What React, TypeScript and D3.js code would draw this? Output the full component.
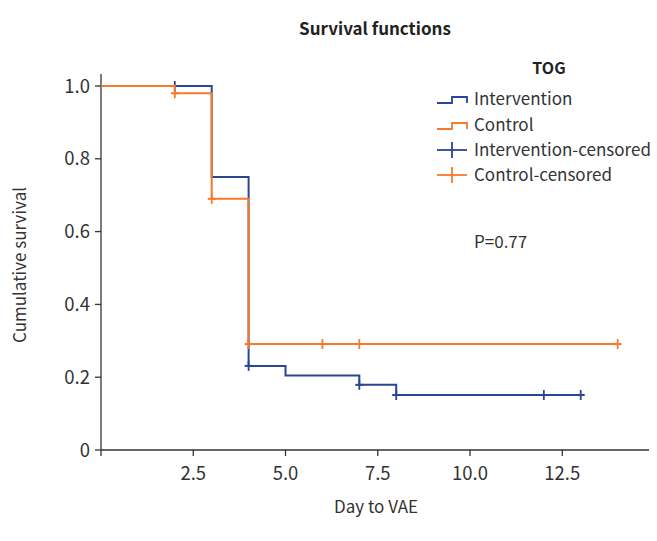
import React from "react";
import * as d3 from "d3";

const interventionSteps: [number, number][] = [
  [0, 1.0], [3, 0.75], [4, 0.231], [5, 0.205], [7, 0.179], [8, 0.151], [13, 0.151],
];
const interventionCensorX = [2, 4, 7, 8, 12, 13];
const controlSteps: [number, number][] = [
  [0, 1.0], [2, 0.98], [3, 0.69], [4, 0.291], [14, 0.291],
];
const controlCensorX = [2, 3, 4, 6, 7, 14];
const xTicks = [2.5, 5.0, 7.5, 10.0, 12.5];
const yTicks = [0, 0.2, 0.4, 0.6, 0.8, 1.0];
const legendItems = ["Intervention", "Control", "Intervention-censored", "Control-censored"];

const BLUE = "#2a4594";
const ORANGE = "#f47a2c";
const FONT = "'Noto Sans CJK KR', 'Noto Sans', sans-serif";

function stepAt(steps: [number, number][], x: number) {
  let v = steps[0][1];
  for (const [sx, sy] of steps) if (sx <= x) v = sy;
  return v;
}

export default function App() {
  const W = 657, H = 541;
  const x = d3.scaleLinear().domain([0, 14.85]).range([101, 649]);
  const y = d3.scaleLinear().domain([0, 1]).range([450, 86]);
  const line = d3.line<[number, number]>().x(d => x(d[0])).y(d => y(d[1])).curve(d3.curveStepAfter);

  const series = [
    { steps: interventionSteps, censor: interventionCensorX, color: BLUE },
    { steps: controlSteps, censor: controlCensorX, color: ORANGE },
  ];

  const lx = 437;
  const ly = [99, 125, 150, 175];
  const colors = [BLUE, ORANGE, BLUE, ORANGE];

  return (
    <svg width={W} height={H} style={{ position: "absolute", left: 0, top: 0, background: "#fff" }} fontFamily={FONT}>
      <rect width={W} height={H} fill="#fff" />
      <text x={375} y={35} textAnchor="middle" fontSize={17} fontWeight={700} fill="#222">Survival functions</text>
      {/* axes */}
      <line x1={x(0)} x2={x(0)} y1={y(1) - 12} y2={y(0)} stroke="#333" strokeWidth={1.3} />
      <line x1={x(0)} x2={x.range()[1]} y1={y(0)} y2={y(0)} stroke="#333" strokeWidth={1.3} />
      {yTicks.map(t => (
        <g key={"y" + t}>
          <line x1={x(0) - 6} x2={x(0)} y1={y(t)} y2={y(t)} stroke="#333" strokeWidth={1.3} />
          <text x={x(0) - 11} y={y(t)} dy="0.36em" textAnchor="end" fontSize={18.5} fill="#333">{t === 0 ? "0" : t.toFixed(1)}</text>
        </g>
      ))}
      <line x1={x(0)} x2={x(0)} y1={y(0)} y2={y(0) + 6} stroke="#333" strokeWidth={1.3} />
      {xTicks.map(t => (
        <g key={"x" + t}>
          <line x1={x(t)} x2={x(t)} y1={y(0)} y2={y(0) + 6} stroke="#333" strokeWidth={1.3} />
          <text x={x(t)} y={y(0) + 30} textAnchor="middle" fontSize={18.5} fill="#333">{t.toFixed(1)}</text>
        </g>
      ))}
      <text transform={`translate(26,${265}) rotate(-90)`} textAnchor="middle" fontSize={17} fill="#333">Cumulative survival</text>
      <text x={376} y={513} textAnchor="middle" fontSize={17} fill="#333">Day to VAE</text>

      {/* curves */}
      {series.map((s, i) => (
        <g key={i}>
          <path d={line(s.steps) || ""} fill="none" stroke={s.color} strokeWidth={2} />
          {s.censor.map((c, j) => (
            <g key={j}>
              <line x1={x(c) - 4} x2={x(c) + 4} y1={y(stepAt(s.steps, c))} y2={y(stepAt(s.steps, c))} stroke={s.color} strokeWidth={2} />
              <line x1={x(c)} x2={x(c)} y1={y(stepAt(s.steps, c)) - 5} y2={y(stepAt(s.steps, c)) + 5} stroke={s.color} strokeWidth={1.8} />
            </g>
          ))}
        </g>
      ))}

      {/* legend */}
      <text x={549} y={74} textAnchor="middle" fontSize={16} fontWeight={700} fill="#222">TOG</text>
      {legendItems.map((name, i) => (
        <g key={name}>
          {i < 2 ? (
            <path d={`M${lx},${ly[i] + 4} H${lx + 15} V${ly[i] - 2} H${lx + 30} V${ly[i] + 4}`} fill="none" stroke={colors[i]} strokeWidth={1.8} />
          ) : (
            <g>
              <line x1={lx} x2={lx + 30} y1={ly[i]} y2={ly[i]} stroke={colors[i]} strokeWidth={1.8} />
              <line x1={lx + 15} x2={lx + 15} y1={ly[i] - 8} y2={ly[i] + 8} stroke={colors[i]} strokeWidth={1.8} />
            </g>
          )}
          <text x={474} y={ly[i]} dy="0.36em" fontSize={17} fill="#333">{name}</text>
        </g>
      ))}
      <text x={474} y={242} dy="0.36em" fontSize={17} fill="#333">P=0.77</text>
    </svg>
  );
}
